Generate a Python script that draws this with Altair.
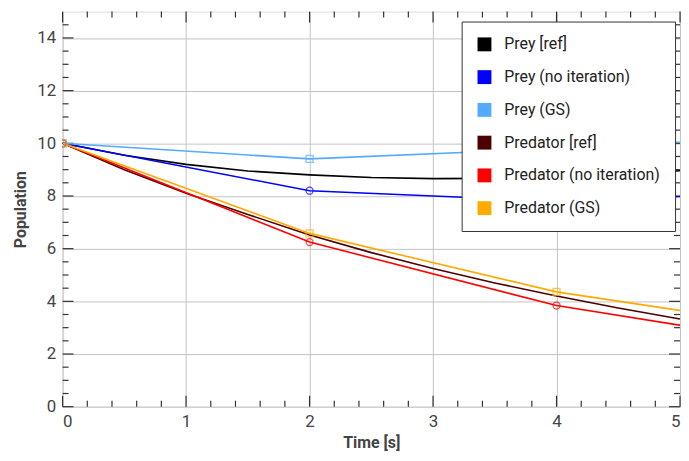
import altair as alt
import pandas as pd

# ---- data ----
series_order = ["Prey [ref]", "Prey (no iteration)", "Prey (GS)",
                "Predator [ref]", "Predator (no iteration)", "Predator (GS)"]
series_colors = ["#000000", "#0000ff", "#55aaff", "#4d0000", "#ff0000", "#ffaa00"]

t_ref = [0, 0.5, 1, 1.5, 2, 2.5, 3, 3.5, 4, 4.5, 5]
prey_ref = [10, 9.55, 9.2, 8.95, 8.8, 8.7, 8.66, 8.67, 8.72, 8.82, 8.96]
pred_ref = [10, 9.0, 8.1, 7.3, 6.52, 5.85, 5.25, 4.7, 4.2, 3.75, 3.33]

t_step = [0, 2, 4, 6]
prey_noit = [10, 8.2, 7.8, 8.16]
prey_gs = [10, 9.41, 9.8, 10.3]
pred_noit = [10, 6.25, 3.84, 2.35]
pred_gs = [10, 6.58, 4.36, 2.95]

x_major = [0, 1, 2, 3, 4, 5]
x_minor = [0.2, 0.4, 0.6, 0.8, 1.2, 1.4, 1.6, 1.8, 2.2, 2.4, 2.6, 2.8,
           3.2, 3.4, 3.6, 3.8, 4.2, 4.4, 4.6, 4.8]
y_major = [0, 2, 4, 6, 8, 10, 12, 14]
y_minor = [0.5, 1, 1.5, 2.5, 3, 3.5, 4.5, 5, 5.5, 6.5, 7, 7.5, 8.5, 9, 9.5,
           10.5, 11, 11.5, 12.5, 13, 13.5, 14.5]

W, H = 622, 398
FONT = "Roboto"

rows = []
for s, tt, vv in [("Prey [ref]", t_ref, prey_ref), ("Predator [ref]", t_ref, pred_ref),
                  ("Prey (no iteration)", t_step, prey_noit), ("Prey (GS)", t_step, prey_gs),
                  ("Predator (no iteration)", t_step, pred_noit), ("Predator (GS)", t_step, pred_gs)]:
    for a, b in zip(tt, vv):
        rows.append({"series": s, "t": a, "v": b})
df = pd.DataFrame(rows)

xs = alt.Scale(domain=[0, 5], nice=False, zero=False)
ys = alt.Scale(domain=[0, 15], nice=False, zero=False)
cs = alt.Scale(domain=series_order, range=series_colors)

x_enc = alt.X("t:Q", scale=xs, title="Time [s]",
              axis=alt.Axis(values=x_major, format="d", grid=True, gridColor="#c4c4c4",
                            gridWidth=1, ticks=False, domain=False, labelFont=FONT,
                            labelFontSize=17, labelColor="#444444", labelPadding=7,
                            titleFont=FONT, titleFontSize=16, titleFontWeight="bold",
                            titleColor="#444444", titlePadding=5))
y_enc = alt.Y("v:Q", scale=ys, title="Population",
              axis=alt.Axis(values=y_major, format="d", grid=True, gridColor="#c4c4c4",
                            gridWidth=1, ticks=False, domain=False, labelFont=FONT,
                            labelFontSize=17, labelColor="#444444", labelPadding=7,
                            titleFont=FONT, titleFontSize=16, titleFontWeight="bold",
                            titleColor="#444444", titlePadding=8))

legend = alt.Legend(title=None, orient="none", legendX=402, legendY=10,
                    symbolType="square", symbolSize=196, symbolOpacity=1,
                    symbolStrokeWidth=0,
                    labelFont=FONT, labelFontSize=16, labelColor="#222222",
                    rowPadding=17, padding=15, labelOffset=12,
                    fillColor="white", strokeColor="#333333",
                    cornerRadius=0, labelLimit=300)

color_enc = alt.Color("series:N", scale=cs, sort=series_order, legend=legend)

base = alt.Chart(df)

# invisible filled squares carrying the legend with filled square swatches
legend_layer = base.mark_square(filled=True, opacity=0, clip=True).encode(
    x=x_enc, y=y_enc, color=color_enc)

lines = base.mark_line(strokeWidth=1.6, clip=True).encode(
    x=alt.X("t:Q", scale=xs), y=alt.Y("v:Q", scale=ys),
    color=color_enc, detail="series:N")

circ = base.transform_filter(
    alt.FieldOneOfPredicate(field="series", oneOf=["Prey (no iteration)", "Predator (no iteration)"])
).mark_point(shape="circle", size=50, filled=False, strokeWidth=1.3, clip=True).encode(
    x=alt.X("t:Q", scale=xs), y=alt.Y("v:Q", scale=ys), color=color_enc)

sq = base.transform_filter(
    alt.FieldOneOfPredicate(field="series", oneOf=["Prey (GS)", "Predator (GS)"])
).mark_point(shape="square", size=50, filled=False, strokeWidth=1.3, clip=True).encode(
    x=alt.X("t:Q", scale=xs), y=alt.Y("v:Q", scale=ys), color=color_enc)

# tick marks (inward, all four sides)
def xticks(vals, size):
    d = pd.DataFrame({"t": vals})
    c = alt.Chart(d)
    bot = c.mark_rule(color="#333333", strokeWidth=1.2).encode(
        x=alt.X("t:Q", scale=xs), y=alt.value(H), y2=alt.value(H - size))
    top = c.mark_rule(color="#333333", strokeWidth=1.2).encode(
        x=alt.X("t:Q", scale=xs), y=alt.value(0), y2=alt.value(size))
    return [bot, top]

def yticks(vals, size):
    d = pd.DataFrame({"v": vals})
    c = alt.Chart(d)
    left = c.mark_rule(color="#333333", strokeWidth=1.2).encode(
        y=alt.Y("v:Q", scale=ys), x=alt.value(0), x2=alt.value(size))
    right = c.mark_rule(color="#333333", strokeWidth=1.2).encode(
        y=alt.Y("v:Q", scale=ys), x=alt.value(W), x2=alt.value(W - size))
    return [left, right]

tick_layers = xticks(x_major, 11) + xticks(x_minor, 6) + yticks(y_major, 11) + yticks(y_minor, 6)

chart = alt.layer(legend_layer, *tick_layers, lines, circ, sq).properties(
    width=W, height=H,
    padding={"left": 4, "top": 1, "right": 0, "bottom": 0},
).configure_view(stroke="#222222", strokeWidth=1.6).configure_legend(
    strokeWidth=1.2).configure(background="white")

chart.save("out.html", embed_options={"renderer": "svg", "actions": False})
